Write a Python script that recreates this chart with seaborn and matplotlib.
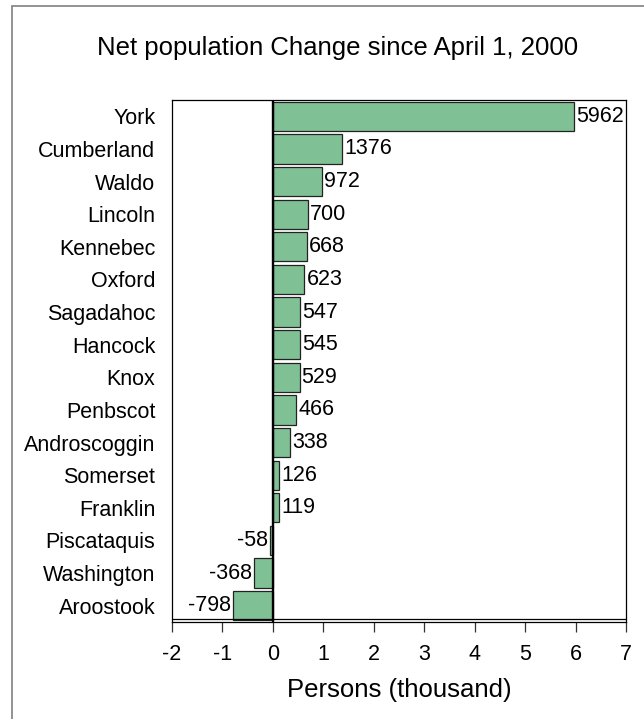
import matplotlib
matplotlib.use("Agg")
import matplotlib.pyplot as plt
import matplotlib.transforms as mtransforms
from matplotlib.lines import Line2D
from matplotlib.patches import Rectangle
import numpy as np
import pandas as pd
import seaborn as sns

counties = ["York", "Cumberland", "Waldo", "Lincoln", "Kennebec", "Oxford",
            "Sagadahoc", "Hancock", "Knox", "Penbscot", "Androscoggin",
            "Somerset", "Franklin", "Piscataquis", "Washington", "Aroostook"]
change_persons = [5962, 1376, 972, 700, 668, 623, 547, 545, 529, 466, 338,
                  126, 119, -58, -368, -798]
x_ticks = [-2, -1, 0, 1, 2, 3, 4, 5, 6, 7]

df = pd.DataFrame({"county": counties,
                   "thousands": np.array(change_persons) / 1000.0,
                   "persons": change_persons})

sns.set_theme(style="white")
plt.rcParams["font.family"] = ["Liberation Sans", "DejaVu Sans"]
plt.rcParams.update({"text.color": "black", "axes.labelcolor": "black",
                     "xtick.color": "black", "ytick.color": "black"})

W, H = 644, 719
fig = plt.figure(figsize=(W / 100, H / 100), dpi=100)
ax = fig.add_axes([172 / W, 1 - 622 / H, (626 - 172) / W, (622 - 100) / H])

sns.barplot(data=df, x="thousands", y="county", orient="h", color="#80C095",
            saturation=1, edgecolor="#222222", linewidth=0.9, width=0.9, ax=ax)

ax.set_xlim(-2, 7)
ax.set_ylim(len(counties) - 0.5, -0.5)
ax.set_xticks(x_ticks)
ax.set_xticklabels([str(t) for t in x_ticks])
ax.tick_params(axis="x", direction="out", length=7, width=0.9, color="#333333",
               labelcolor="black", pad=9, labelsize=15.5, bottom=True)
ax.tick_params(axis="y", length=0, pad=12, labelsize=15.5, labelcolor="black")
for lab in ax.get_yticklabels():
    lab.set_horizontalalignment("right")
ax.set_ylabel("")
ax.set_xlabel("Persons (thousand)", fontsize=18.5, labelpad=9, color="black")

for side in ["left", "right", "top", "bottom"]:
    ax.spines[side].set_visible(True)
    ax.spines[side].set_color("black")
    ax.spines[side].set_linewidth(0.9)

# second rule just above the bottom spine
offset = mtransforms.ScaledTranslation(0, 3 / 100, fig.dpi_scale_trans)
ax.add_line(Line2D([0, 1], [0, 0], transform=ax.transAxes + offset,
                   color="black", linewidth=0.9, clip_on=False))

# zero line
ax.axvline(0, color="black", linewidth=1.7, zorder=5)

# value labels next to each bar
for i, (v, p) in enumerate(zip(df["thousands"], df["persons"])):
    if v >= 0:
        ax.annotate(str(p), (v, i), xytext=(1.5, 0), textcoords="offset points",
                    ha="left", va="center", fontsize=15.5, color="black")
    else:
        ax.annotate(str(p), (v, i), xytext=(-1.5, 0), textcoords="offset points",
                    ha="right", va="center", fontsize=15.5, color="black")

fig.text(338 / W, 1 - 48 / H, "Net population Change since April 1, 2000",
         ha="center", va="center", fontsize=18.5, color="black")

fig.patches.append(Rectangle((12 / W, -0.1), 1.2, 1.1 - 6 / H,
                             transform=fig.transFigure, fill=False,
                             edgecolor="#808080", linewidth=1.2))

fig.savefig("out.png", dpi=100)
